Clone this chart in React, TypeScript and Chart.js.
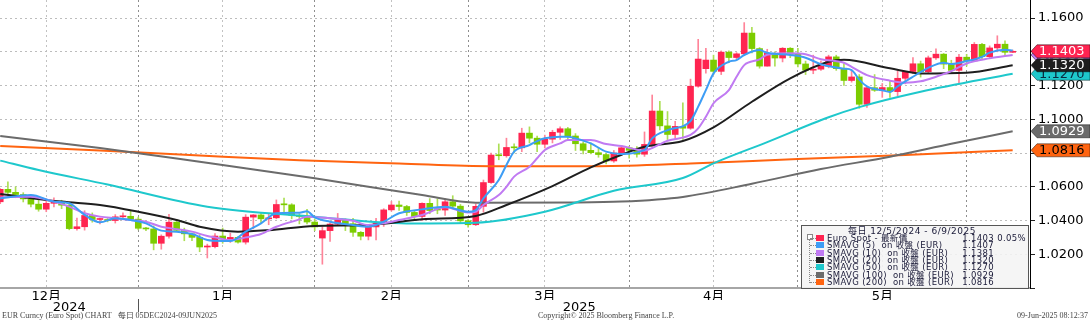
import React, { useEffect, useRef } from 'react';
import { Chart, registerables } from 'chart.js';

Chart.register(...registerables);

// ---- Data: EUR Curncy daily candles, 5 Dec 2024 – 9 Jun 2025 (trading-day index 0..132)
const open = [
  1.0511, 1.0585, 1.0567, 1.0554, 1.0528, 1.0497, 1.0467, 1.0502, 1.0512, 1.0491,
  1.0352, 1.0363, 1.0430, 1.0406, 1.0406, 1.0400, 1.0422, 1.0425, 1.0408, 1.0354,
  1.0350, 1.0265, 1.0307, 1.0390, 1.0342, 1.0321, 1.0300, 1.0243, 1.0245, 1.0308,
  1.0290, 1.0300, 1.0272, 1.0420, 1.0433, 1.0410, 1.0416, 1.0495, 1.0493, 1.0431,
  1.0424, 1.0391, 1.0296, 1.0340, 1.0379, 1.0403, 1.0381, 1.0330, 1.0307, 1.0362,
  1.0383, 1.0463, 1.0492, 1.0483, 1.0448, 1.0424, 1.0502, 1.0470, 1.0462, 1.0511,
  1.0485, 1.0398, 1.0375, 1.0484, 1.0625, 1.0788, 1.0784, 1.0833, 1.0831, 1.0918,
  1.0888, 1.0852, 1.0882, 1.0923, 1.0944, 1.0901, 1.0855, 1.0816, 1.0802, 1.0791,
  1.0753, 1.0800, 1.0831, 1.0816, 1.0793, 1.0851, 1.1049, 1.0961, 1.0910, 1.0958,
  1.0947, 1.1196, 1.1300, 1.1351, 1.1284, 1.1398, 1.1366, 1.1388, 1.1511, 1.1419,
  1.1315, 1.1391, 1.1363, 1.1421, 1.1385, 1.1328, 1.1291, 1.1297, 1.1315, 1.1370,
  1.1300, 1.1230, 1.1251, 1.1089, 1.1187, 1.1172, 1.1188, 1.1164, 1.1243, 1.1283,
  1.1329, 1.1282, 1.1364, 1.1386, 1.1327, 1.1290, 1.1368, 1.1346, 1.1444, 1.1371,
  1.1423, 1.1445, 1.1397,
];
const high = [
  1.0590, 1.0630, 1.0600, 1.0565, 1.0545, 1.0525, 1.0525, 1.0535, 1.0520, 1.0508,
  1.0415, 1.0458, 1.0445, 1.0415, 1.0412, 1.0435, 1.0445, 1.0455, 1.0420, 1.0360,
  1.0368, 1.0315, 1.0437, 1.0406, 1.0355, 1.0325, 1.0315, 1.0260, 1.0323, 1.0355,
  1.0325, 1.0305, 1.0435, 1.0435, 1.0445, 1.0440, 1.0522, 1.0533, 1.0500, 1.0440,
  1.0467, 1.0410, 1.0360, 1.0385, 1.0442, 1.0410, 1.0413, 1.0335, 1.0375, 1.0413,
  1.0470, 1.0513, 1.0515, 1.0490, 1.0460, 1.0505, 1.0530, 1.0528, 1.0528, 1.0547,
  1.0495, 1.0405, 1.0498, 1.0640, 1.0800, 1.0854, 1.0888, 1.0855, 1.0947, 1.0955,
  1.0900, 1.0906, 1.0935, 1.0955, 1.0952, 1.0915, 1.0865, 1.0860, 1.0830, 1.0800,
  1.0815, 1.0845, 1.0840, 1.0838, 1.0925, 1.1144, 1.1107, 1.1046, 1.0988, 1.1097,
  1.1238, 1.1474, 1.1420, 1.1380, 1.1405, 1.1405, 1.1395, 1.1573, 1.1545, 1.1425,
  1.1415, 1.1400, 1.1425, 1.1425, 1.1420, 1.1345, 1.1380, 1.1345, 1.1380, 1.1380,
  1.1330, 1.1290, 1.1265, 1.1195, 1.1265, 1.1212, 1.1225, 1.1287, 1.1285, 1.1365,
  1.1345, 1.1375, 1.1418, 1.1390, 1.1350, 1.1385, 1.1385, 1.1455, 1.1450, 1.1435,
  1.1495, 1.1465, 1.1410,
];
const low = [
  1.0500, 1.0542, 1.0535, 1.0510, 1.0480, 1.0455, 1.0452, 1.0480, 1.0470, 1.0345,
  1.0343, 1.0343, 1.0390, 1.0380, 1.0392, 1.0385, 1.0405, 1.0405, 1.0345, 1.0340,
  1.0226, 1.0230, 1.0296, 1.0335, 1.0280, 1.0280, 1.0215, 1.0178, 1.0238, 1.0265,
  1.0270, 1.0266, 1.0260, 1.0350, 1.0387, 1.0375, 1.0410, 1.0435, 1.0410, 1.0380,
  1.0380, 1.0340, 1.0141, 1.0276, 1.0370, 1.0340, 1.0305, 1.0285, 1.0285, 1.0285,
  1.0365, 1.0455, 1.0460, 1.0430, 1.0400, 1.0400, 1.0440, 1.0440, 1.0430, 1.0475,
  1.0385, 1.0360, 1.0370, 1.0450, 1.0620, 1.0760, 1.0775, 1.0800, 1.0808, 1.0860,
  1.0808, 1.0830, 1.0860, 1.0880, 1.0875, 1.0815, 1.0795, 1.0795, 1.0775, 1.0735,
  1.0745, 1.0785, 1.0770, 1.0775, 1.0780, 1.0840, 1.0937, 1.0880, 1.0885, 1.0880,
  1.0940, 1.1190, 1.1274, 1.1265, 1.1265, 1.1335, 1.1355, 1.1380, 1.1394, 1.1303,
  1.1315, 1.1315, 1.1340, 1.1365, 1.1310, 1.1265, 1.1270, 1.1290, 1.1305, 1.1290,
  1.1200, 1.1220, 1.1065, 1.1070, 1.1165, 1.1130, 1.1130, 1.1140, 1.1210, 1.1270,
  1.1250, 1.1275, 1.1355, 1.1300, 1.1280, 1.1210, 1.1315, 1.1345, 1.1355, 1.1365,
  1.1400, 1.1375, 1.1395,
];
const close = [
  1.0585, 1.0567, 1.0554, 1.0528, 1.0497, 1.0467, 1.0502, 1.0512, 1.0491, 1.0352,
  1.0363, 1.0430, 1.0406, 1.0406, 1.0400, 1.0422, 1.0425, 1.0408, 1.0354, 1.0350,
  1.0265, 1.0307, 1.0390, 1.0342, 1.0321, 1.0300, 1.0243, 1.0245, 1.0308, 1.0290,
  1.0300, 1.0272, 1.0420, 1.0433, 1.0410, 1.0416, 1.0495, 1.0493, 1.0431, 1.0424,
  1.0391, 1.0362, 1.0340, 1.0379, 1.0403, 1.0381, 1.0330, 1.0307, 1.0362, 1.0383,
  1.0463, 1.0492, 1.0483, 1.0448, 1.0424, 1.0502, 1.0459, 1.0462, 1.0511, 1.0485,
  1.0398, 1.0375, 1.0484, 1.0625, 1.0788, 1.0784, 1.0833, 1.0831, 1.0918, 1.0888,
  1.0852, 1.0882, 1.0923, 1.0944, 1.0901, 1.0855, 1.0816, 1.0802, 1.0791, 1.0753,
  1.0800, 1.0831, 1.0816, 1.0793, 1.0851, 1.1049, 1.0961, 1.0910, 1.0958, 1.0947,
  1.1196, 1.1357, 1.1351, 1.1284, 1.1398, 1.1366, 1.1388, 1.1511, 1.1419, 1.1315,
  1.1391, 1.1363, 1.1421, 1.1385, 1.1328, 1.1291, 1.1297, 1.1315, 1.1370, 1.1300,
  1.1230, 1.1251, 1.1089, 1.1187, 1.1172, 1.1188, 1.1164, 1.1243, 1.1283, 1.1329,
  1.1282, 1.1364, 1.1386, 1.1327, 1.1290, 1.1368, 1.1346, 1.1444, 1.1371, 1.1423,
  1.1445, 1.1397, 1.1403,
];

// Moving averages (trading-day index, value)
const sma5Days = [0, 4, 7, 9, 11, 13, 15, 17, 19, 21, 23, 25, 27, 28, 30, 32, 34, 36, 39, 40, 41, 43, 46, 48, 50, 52, 55, 58, 61, 62, 63, 65, 66, 67, 69, 70, 71, 73, 74, 75, 77, 79, 81, 84, 85, 87, 90, 91, 92, 93, 95, 96, 97, 99, 100, 103, 105, 107, 110, 111, 112, 113, 115, 116, 117, 119, 121, 123, 124, 126, 128, 129, 131, 132];
const sma5 = [1.0531, 1.0551, 1.0512, 1.0502, 1.0433, 1.0389, 1.0413, 1.0403, 1.0383, 1.0340, 1.0334, 1.0320, 1.0284, 1.0280, 1.0278, 1.0334, 1.0383, 1.0443, 1.0446, 1.0455, 1.0419, 1.0393, 1.0373, 1.0363, 1.0393, 1.0443, 1.0466, 1.0482, 1.0452, 1.0462, 1.0531, 1.0640, 1.0729, 1.0808, 1.0847, 1.0871, 1.0887, 1.0897, 1.0897, 1.0887, 1.0857, 1.0808, 1.0794, 1.0818, 1.0887, 1.0936, 1.0990, 1.1075, 1.1173, 1.1272, 1.1341, 1.1351, 1.1381, 1.1410, 1.1394, 1.1381, 1.1365, 1.1326, 1.1300, 1.1292, 1.1235, 1.1195, 1.1172, 1.1162, 1.1195, 1.1252, 1.1305, 1.1335, 1.1328, 1.1345, 1.1370, 1.1395, 1.1412, 1.1407];

const sma10Days = [0, 4, 7, 9, 11, 13, 15, 17, 19, 21, 23, 25, 27, 28, 30, 32, 34, 36, 39, 40, 43, 46, 48, 50, 52, 55, 58, 61, 62, 63, 65, 66, 67, 69, 70, 71, 73, 74, 77, 79, 81, 84, 85, 87, 90, 91, 92, 93, 95, 96, 97, 99, 100, 103, 105, 107, 110, 111, 113, 116, 118, 120, 122, 124, 126, 129, 132];
const sma10 = [1.0537, 1.0541, 1.0512, 1.0482, 1.0443, 1.0423, 1.0413, 1.0403, 1.0393, 1.0363, 1.0349, 1.0334, 1.0308, 1.0300, 1.0284, 1.0300, 1.0320, 1.0363, 1.0407, 1.0423, 1.0413, 1.0398, 1.0373, 1.0383, 1.0403, 1.0433, 1.0478, 1.0448, 1.0452, 1.0492, 1.0551, 1.0600, 1.0660, 1.0719, 1.0769, 1.0818, 1.0857, 1.0877, 1.0877, 1.0853, 1.0841, 1.0814, 1.0830, 1.0873, 1.0907, 1.0946, 1.1015, 1.1095, 1.1173, 1.1252, 1.1321, 1.1355, 1.1383, 1.1391, 1.1385, 1.1356, 1.1335, 1.1311, 1.1262, 1.1229, 1.1217, 1.1225, 1.1252, 1.1285, 1.1331, 1.1361, 1.1381];

const sma20Days = [0, 8, 13, 18, 23, 26, 31, 35, 41, 48, 55, 62, 66, 72, 77, 81, 84, 89, 93, 98, 103, 108, 110, 116, 120, 126, 132];
const sma20 = [1.0557, 1.0512, 1.0492, 1.0452, 1.0403, 1.0363, 1.0334, 1.0343, 1.0368, 1.0373, 1.0407, 1.0427, 1.0492, 1.0604, 1.0715, 1.0790, 1.0837, 1.0871, 1.0952, 1.1104, 1.1243, 1.1341, 1.1353, 1.1302, 1.1272, 1.1276, 1.1320];

const sma50Days = [0, 5, 14, 27, 41, 53, 62, 71, 80, 89, 93, 100, 108, 112, 120, 132];
const sma50 = [1.0755, 1.0699, 1.0613, 1.0482, 1.0423, 1.0383, 1.0387, 1.0452, 1.0576, 1.0652, 1.0739, 1.0865, 1.1012, 1.1072, 1.1163, 1.1270];

const sma100Days = [0, 13, 26, 41, 55, 62, 75, 81, 89, 98, 107, 116, 124, 132];
const sma100 = [1.0901, 1.0830, 1.0748, 1.0650, 1.0551, 1.0506, 1.0507, 1.0512, 1.0540, 1.0618, 1.0705, 1.0778, 1.0855, 1.0929];

const sma200Days = [0, 13, 26, 39, 52, 64, 78, 90, 104, 118, 132];
const sma200 = [1.0841, 1.0815, 1.0785, 1.0757, 1.0738, 1.0722, 1.0722, 1.0738, 1.0765, 1.0789, 1.0816];

// Axis ticks
const monthTickDays = [6, 18, 29, 41, 51, 61, 71, 82, 93, 104, 115, 126];
const monthTickLabels = ['12月', '', '1月', '', '2月', '', '3月', '', '4月', '', '5月', ''];
const yearTickDays = [9, 75.5];
const yearTickLabels = ['2024', '2025'];
const yearBoundaryDay = 18;
const priceTicks = [1.0, 1.01, 1.02, 1.03, 1.04, 1.05, 1.06, 1.07, 1.08, 1.09, 1.1, 1.11, 1.12, 1.13, 1.14, 1.15, 1.16, 1.17];
const priceLabelTicks = [1.02, 1.04, 1.06, 1.08, 1.1, 1.12, 1.14, 1.16];

// Legend / last values
const legendTitle = '每日 12/5/2024 - 6/9/2025';
const legendNames = ['Euro Spot - 最新價', 'SMAVG (5)  on 收盤 (EUR)', 'SMAVG (10)  on 收盤 (EUR)', 'SMAVG (20)  on 收盤 (EUR)', 'SMAVG (50)  on 收盤 (EUR)', 'SMAVG (100)  on 收盤 (EUR)', 'SMAVG (200)  on 收盤 (EUR)'];
const legendValues = [1.1403, 1.1407, 1.1381, 1.132, 1.127, 1.0929, 1.0816];
const spotChange = '0.05%';
const legendColors = ['#ff2350', '#3d9df5', '#c07af2', '#1e1e1e', '#1ec8cc', '#6b6b6b', '#ff6410'];

// Right-side value tags (drawn in this order)
const tagValues = [1.127, 1.1381, 1.132, 1.1403, 1.0929, 1.0816];
const tagFills = ['#1ec8cc', '#c07af2', '#1e1e1e', '#ff2350', '#6b6b6b', '#ff6410'];
const tagText = ['#0a2a40', '#ffffff', '#ffffff', '#ffffff', '#ffffff', '#000000'];

const footerLeft = 'EUR Curncy (Euro Spot) CHART   每日 05DEC2024-09JUN2025';
const footerMid = 'Copyright© 2025 Bloomberg Finance L.P.';
const footerRight = '09-Jun-2025 08:12:37';

const X_MIN = -0.03;
const X_MAX = 134.26;
const UP = '#ff2450';
const UP_WICK = '#ff8499';
const DOWN = '#7ccc00';
const DOWN_WICK = '#acdf55';

const FONT = '"DejaVu Sans", "Noto Sans CJK TC", sans-serif';

const overlayPlugin = {
  id: 'overlay',
  afterDraw(chart: any) {
    const { ctx, chartArea } = chart;
    const ys = chart.scales.y;
    const xs = chart.scales.x;
    ctx.save();
    // year separator under the axis
    const bx = Math.round(xs.getPixelForValue(yearBoundaryDay)) + 0.5;
    ctx.strokeStyle = '#555';
    ctx.lineWidth = 1;
    ctx.beginPath();
    ctx.moveTo(bx, chartArea.bottom + 11);
    ctx.lineTo(bx, chartArea.bottom + 24);
    ctx.stroke();
    // value tags
    const x0 = chartArea.right;
    const h = 6.5;
    tagValues.forEach((v, i) => {
      const py = ys.getPixelForValue(v);
      ctx.beginPath();
      ctx.moveTo(x0 + 1, py);
      ctx.lineTo(x0 + 7, py - h);
      ctx.lineTo(1090, py - h);
      ctx.lineTo(1090, py + h);
      ctx.lineTo(x0 + 7, py + h);
      ctx.closePath();
      ctx.fillStyle = tagFills[i];
      ctx.fill();
      ctx.strokeStyle = 'rgba(0,0,0,0.45)';
      ctx.lineWidth = 1;
      ctx.stroke();
      ctx.fillStyle = tagText[i];
      ctx.font = `13px ${FONT}`;
      ctx.textBaseline = 'middle';
      ctx.textAlign = 'left';
      ctx.fillText(v.toFixed(4), x0 + 9, py + 0.5);
    });
    ctx.restore();
  },
};

const line = (label: string, days: number[], vals: number[], color: string, order: number) => ({
  type: 'line' as const,
  label,
  data: days.map((d, k) => ({ x: d, y: vals[k] })),
  borderColor: color,
  borderWidth: 2,
  pointRadius: 0,
  cubicInterpolationMode: 'monotone' as const,
  xAxisID: 'x',
  yAxisID: 'y',
  order,
});

export default function App() {
  const canvasRef = useRef<HTMLCanvasElement | null>(null);

  useEffect(() => {
    document.body.style.margin = '0';
    const canvas = canvasRef.current;
    if (!canvas) return;
    const idx = open.map((_, i) => i);
    const up = idx.map((i) => close[i] >= open[i]);

    const chart = new Chart(canvas, {
      type: 'bar',
      data: {
        datasets: [
          line('SMAVG (5)', sma5Days, sma5, legendColors[1], 1),
          line('SMAVG (10)', sma10Days, sma10, legendColors[2], 2),
          line('SMAVG (20)', sma20Days, sma20, legendColors[3], 3),
          line('SMAVG (50)', sma50Days, sma50, legendColors[4], 4),
          line('SMAVG (100)', sma100Days, sma100, legendColors[5], 5),
          line('SMAVG (200)', sma200Days, sma200, legendColors[6], 6),
          {
            type: 'bar',
            label: 'body',
            data: idx.map((i) => ({ x: i, y: [open[i], close[i]] })) as any,
            backgroundColor: idx.map((i) => (up[i] ? UP : DOWN)),
            barThickness: 6,
            minBarLength: 1,
            grouped: false,
            borderWidth: 0,
            xAxisID: 'x',
            yAxisID: 'y',
            order: 7,
          } as any,
          {
            type: 'bar',
            label: 'wick',
            data: idx.map((i) => ({ x: i, y: [low[i], high[i]] })) as any,
            backgroundColor: idx.map((i) => (up[i] ? UP_WICK : DOWN_WICK)),
            barThickness: 1,
            grouped: false,
            borderWidth: 0,
            xAxisID: 'x',
            yAxisID: 'y',
            order: 8,
          } as any,
        ],
      },
      options: {
        animation: false,
        responsive: false,
        devicePixelRatio: 1,
        events: [],
        layout: { padding: 0 },
        plugins: { legend: { display: false }, tooltip: { enabled: false } },
        scales: {
          x: {
            type: 'linear',
            position: 'bottom',
            min: X_MIN,
            max: X_MAX,
            bounds: 'data',
            offset: false,
            weight: 0,
            afterBuildTicks: (s: any) => {
              s.ticks = monthTickDays.map((v) => ({ value: v }));
            },
            afterFit: (s: any) => {
              s.height = 12;
              s.paddingLeft = 0;
              s.paddingRight = 0;
            },
            grid: {
              offset: false,
              drawTicks: false,
              lineWidth: 1,
              color: (c: any) => (monthTickLabels[c.index] === '' ? '#8e8e8e' : '#c2c2c2'),
            },
            border: { display: true, color: '#a6a6a6', width: 2, dash: [2, 3] },
            ticks: {
              autoSkip: false,
              maxRotation: 0,
              padding: 1,
              color: '#000',
              font: { family: FONT, size: 13 },
              callback: (_v: any, i: number) => monthTickLabels[i],
            },
          },
          years: {
            type: 'linear',
            axis: 'x',
            position: 'bottom',
            min: X_MIN,
            max: X_MAX,
            bounds: 'data',
            offset: false,
            weight: 1,
            afterBuildTicks: (s: any) => {
              s.ticks = yearTickDays.map((v) => ({ value: v }));
            },
            afterFit: (s: any) => {
              s.height = 20;
              s.paddingLeft = 0;
              s.paddingRight = 0;
            },
            grid: { display: false, drawTicks: false },
            border: { display: false },
            ticks: {
              autoSkip: false,
              maxRotation: 0,
              padding: 0,
              color: '#000',
              font: { family: FONT, size: 13 },
              callback: (_v: any, i: number) => yearTickLabels[i],
            },
          },
          y: {
            type: 'linear',
            position: 'right',
            min: 1.0,
            max: 1.1707,
            bounds: 'data',
            afterBuildTicks: (s: any) => {
              s.ticks = priceTicks.map((v) => ({ value: v }));
            },
            afterFit: (s: any) => {
              s.width = 60;
              s.paddingTop = 0;
              s.paddingBottom = 0;
            },
            grid: { color: '#bdbdbd', lineWidth: 1, drawTicks: true, tickLength: 5, tickColor: '#222' },
            border: { display: true, color: '#000', width: 1, dash: [2, 3] },
            ticks: {
              padding: 3,
              color: '#000',
              font: { family: FONT, size: 13 },
              callback: (v: any) =>
                priceLabelTicks.some((t) => Math.abs(t - Number(v)) < 1e-6) ? Number(v).toFixed(4) : '',
            },
          },
        } as any,
      },
      plugins: [overlayPlugin],
    });
    return () => chart.destroy();
  }, []);

  const rowTop = 234;
  const rowH = 7.35;

  return (
    <div style={{ position: 'relative', width: 1090, height: 320, overflow: 'hidden', background: '#fff' }}>
      <canvas ref={canvasRef} width={1090} height={320} style={{ position: 'absolute', left: 0, top: 0 }} />
      {/* legend box */}
      <div
        style={{
          position: 'absolute',
          left: 801,
          top: 225,
          width: 226,
          height: 62,
          background: 'rgba(244,244,244,0.88)',
          border: '1px solid #555',
          fontFamily: FONT,
          color: '#1a1a38',
        }}
      >
        <div style={{ position: 'absolute', left: 46, top: 0, fontSize: 9, lineHeight: '10px', letterSpacing: 0.5, whiteSpace: 'pre' }}>
          {legendTitle}
        </div>
        <div style={{ position: 'absolute', left: 5, top: 8, width: 4, height: 4, border: '1px solid #888', background: '#fff' }} />
        <div style={{ position: 'absolute', left: 7, top: 14, width: 0, height: 43, borderLeft: '1px dotted #888' }} />
        {legendNames.map((name, i) => (
          <React.Fragment key={name}>
            <div style={{ position: 'absolute', left: 8, top: rowTop - 225 + i * rowH + 3, width: 6, height: 0, borderTop: '1px dotted #888' }} />
            <div
              style={{
                position: 'absolute',
                left: 14,
                top: rowTop - 225 + i * rowH,
                width: 8,
                height: 6,
                background: legendColors[i],
              }}
            />
            <div
              style={{
                position: 'absolute',
                left: 25,
                top: rowTop - 225 + i * rowH - 2,
                fontSize: 8.5,
                lineHeight: '10px',
                letterSpacing: 0.35,
                whiteSpace: 'pre',
              }}
            >
              {name}
            </div>
            <div
              style={{
                position: 'absolute',
                right: 34,
                top: rowTop - 225 + i * rowH - 2,
                fontSize: 8.5,
                lineHeight: '10px',
                letterSpacing: 0.35,
                whiteSpace: 'pre',
              }}
            >
              {legendValues[i].toFixed(4)}
            </div>
            {i === 0 ? (
              <div
                style={{
                  position: 'absolute',
                  right: 2,
                  top: rowTop - 225 - 2,
                  fontSize: 8.5,
                  lineHeight: '10px',
                  letterSpacing: 0.35,
                  whiteSpace: 'pre',
                }}
              >
                {spotChange}
              </div>
            ) : null}
          </React.Fragment>
        ))}
      </div>
      {/* footer */}
      <div style={{ position: 'absolute', left: 2, top: 312, fontFamily: '"Liberation Serif", serif', fontSize: 8, lineHeight: '8px', color: '#444', whiteSpace: 'pre' }}>
        {footerLeft}
      </div>
      <div style={{ position: 'absolute', left: 538, top: 312, fontFamily: '"Liberation Serif", serif', fontSize: 8, lineHeight: '8px', color: '#444', whiteSpace: 'pre' }}>
        {footerMid}
      </div>
      <div style={{ position: 'absolute', right: 2, top: 312, fontFamily: '"Liberation Serif", serif', fontSize: 8, lineHeight: '8px', color: '#444', whiteSpace: 'pre' }}>
        {footerRight}
      </div>
    </div>
  );
}
